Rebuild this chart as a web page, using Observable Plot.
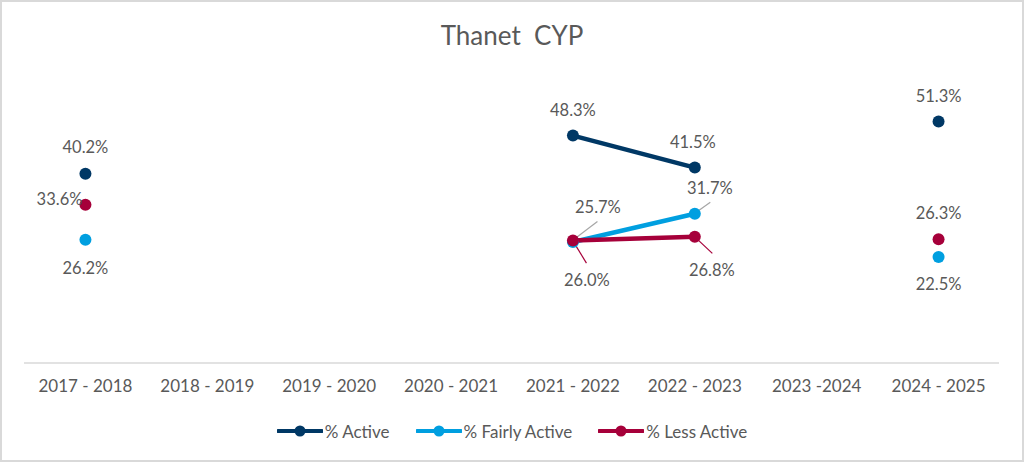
<!DOCTYPE html>
<html>
<head>
<meta charset="utf-8">
<script src="https://cdn.jsdelivr.net/npm/d3@7"></script>
<script src="https://cdn.jsdelivr.net/npm/@observablehq/plot@0.6"></script>
<style>
  html, body { margin: 0; padding: 0; background: #fff; }
  #chart { position: relative; width: 1024px; height: 462px; overflow: hidden; font-family: Lato, "Open Sans", sans-serif; color: #595959; }
  #frame { position: absolute; left: 0; top: 0; width: 1024px; height: 462px; box-sizing: border-box; border: 2px solid #d9d9d9; pointer-events: none; }
  #title { position: absolute; left: 0; top: 0; width: 1024px; height: 62px; line-height: 70px; text-align: center; font-size: 26px; white-space: pre; }
  #plot { position: absolute; left: 0; top: 62px; }
  #legend { position: absolute; left: 0; top: 418px; width: 1024px; height: 26px; display: flex; justify-content: center; align-items: center; font-size: 17px; }
  .item { display: flex; align-items: center; margin: 0 13px; }
  .item svg { margin-right: 2px; }
</style>
</head>
<body>
<div id="chart">
  <div id="title"></div>
  <div id="plot"></div>
  <div id="legend"></div>
  <div id="frame"></div>
</div>
<script>
const title = "Thanet  CYP";
const years = ["2017 - 2018","2018 - 2019","2019 - 2020","2020 - 2021","2021 - 2022","2022 - 2023","2023 -2024","2024 - 2025"];
const seriesNames = ["% Active","% Fairly Active","% Less Active"];
const active = [40.2, null, null, null, 48.3, 41.5, null, 51.3];
const fairlyActive = [26.2, null, null, null, 25.7, 31.7, null, 22.5];
const lessActive = [33.6, null, null, null, 26.0, 26.8, null, 26.3];

const colors = ["#003865", "#009fe0", "#a6003a"];
const textColor = "#595959";

// label placement (pixel offsets from the point) — styling, not data
const placement = {
  "% Active": {0:{dx:0,dy:-26}, 4:{dx:0,dy:-25}, 5:{dx:-2,dy:-25}, 7:{dx:0,dy:-25}},
  "% Fairly Active": {0:{dx:0,dy:29}, 4:{dx:25,dy:-34,leader:[0,-1,25,-20]}, 5:{dx:15,dy:-25,leader:[2,-1,16,-11]}, 7:{dx:0,dy:28}},
  "% Less Active": {0:{dx:-3,dy:-5,anchor:"end"}, 4:{dx:14,dy:40,leader:[0,0,14,23]}, 5:{dx:17,dy:34,leader:[0,0,18,17]}, 7:{dx:0,dy:-25}}
};
const leaderColors = {"% Fairly Active": "#a6a6a6", "% Less Active": "#a6003a"};

const valuesBySeries = [active, fairlyActive, lessActive];
const rows = seriesNames.flatMap((s, si) => years.map((y, i) => ({series: s, year: y, idx: i, value: valuesBySeries[si][i]})));
const present = rows.filter(d => d.value != null);

document.getElementById("title").textContent = title;

const labelMarks = present.map(d => {
  const p = placement[d.series][d.idx];
  return Plot.text([d], {
    x: "year", y: "value", text: r => r.value.toFixed(1) + "%",
    dx: p.dx, dy: p.dy, textAnchor: p.anchor || "middle",
    fill: textColor, fontSize: 16.5, fontFamily: "Lato, 'Open Sans', sans-serif"
  });
});

const leaderMark = (index, scales) => {
  const g = d3.create("svg:g");
  present.forEach(d => {
    const p = placement[d.series][d.idx];
    if (!p.leader) return;
    const cx = scales.x(d.year), cy = scales.y(d.value);
    g.append("line")
      .attr("x1", cx + p.leader[0]).attr("y1", cy + p.leader[1])
      .attr("x2", cx + p.leader[2]).attr("y2", cy + p.leader[3])
      .attr("stroke", leaderColors[d.series]).attr("stroke-width", 1.2);
  });
  return g.node();
};

const plot = Plot.plot({
  width: 1024,
  height: 338,
  marginLeft: 24,
  marginRight: 25,
  marginTop: 18,
  marginBottom: 37.5,
  style: {fontFamily: "Lato, 'Open Sans', sans-serif", fontSize: "17px", color: textColor, background: "transparent"},
  x: {type: "point", domain: years, padding: 0.5, round: false, label: null, tickSize: 0, tickPadding: 16.5},
  y: {domain: [0, 60], axis: null},
  color: {domain: seriesNames, range: colors},
  marks: [
    Plot.ruleY([0], {stroke: "#d9d9d9", strokeWidth: 1.5}),
    Plot.line(rows, {x: "year", y: "value", z: "series", stroke: "series", strokeWidth: 4.5}),
    leaderMark,
    Plot.dot(present, {x: "year", y: "value", fill: "series", r: 6}),
    ...labelMarks
  ]
});
document.getElementById("plot").appendChild(plot);

const legend = document.getElementById("legend");
seriesNames.forEach((s, i) => {
  const item = document.createElement("div");
  item.className = "item";
  item.innerHTML = `<svg width="46" height="14"><line x1="1" y1="7" x2="45" y2="7" stroke="${colors[i]}" stroke-width="4" stroke-linecap="round"/><circle cx="23" cy="7" r="5.5" fill="${colors[i]}"/></svg><span>${s}</span>`;
  legend.appendChild(item);
});
</script>
</body>
</html>
